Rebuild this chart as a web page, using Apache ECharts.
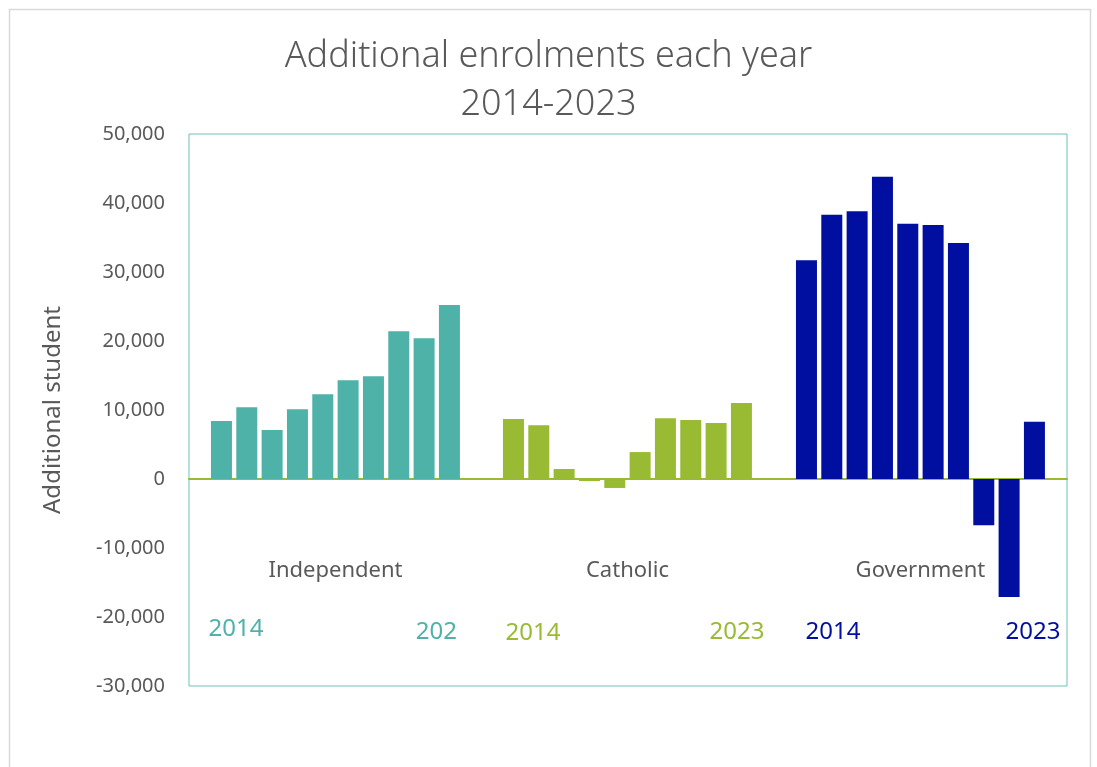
<!DOCTYPE html>
<html>
<head>
<meta charset="utf-8">
<script src="https://cdn.jsdelivr.net/npm/echarts@6/dist/echarts.min.js"></script>
<style>
  html, body { margin: 0; padding: 0; background: #fff; }
  #chart { width: 1097px; height: 767px; }
</style>
</head>
<body>
<div id="chart"></div>
<script>
// data
const years = ['2014', '2015', '2016', '2017', '2018', '2019', '2020', '2021', '2022', '2023'];
const groups = ['Independent', 'Catholic', 'Government'];
const independent = [8400, 10400, 7100, 10100, 12300, 14300, 14900, 21400, 20400, 25200];
const catholic = [8700, 7800, 1450, -300, -1300, 3900, 8800, 8550, 8100, 11000];
const government = [31700, 38300, 38800, 43800, 37000, 36800, 34200, -6700, -17100, 8300];
const endLabels = [['2014', '202'], ['2014', '2023'], ['2014', '2023']];
const yTicks = { min: -30000, max: 50000, interval: 10000 };

const colors = ['#4FB2A9', '#98BB33', '#000FA0'];
const groupValues = [independent, catholic, government];
const groupLefts = [208.8, 500.8, 793.8];
// the year labels in the original are hand-placed text boxes: nudge [dx, dy] per end label
const labelNudge = [[[14.5, 0], [-13, 3]], [[19.5, 4], [-4.5, 3]], [[26.5, 3], [-1.5, 3]]];
const FONT = '"Noto Sans", sans-serif';
const TOP = 134, HEIGHT = 552;
// distance from grid bottom up to the zero line
const ZERO_OFFSET = -HEIGHT * (0 - yTicks.min) / (yTicks.max - yTicks.min);

const chart = echarts.init(document.getElementById('chart'));

const fmt = (v) => v.toLocaleString('en-US');

const nudgePadding = (n) => {
  const dx = n[0], dy = n[1];
  return [dy, dx < 0 ? -2 * dx : 0, 0, dx > 0 ? 2 * dx : 0];
};

const grids = [{ left: 189, top: TOP, width: 878, height: HEIGHT, show: true,
  borderColor: '#6CC1B9', borderWidth: 1, backgroundColor: 'transparent', outerBoundsMode: 'none' }];
const xAxes = [{
  gridIndex: 0, type: 'value', min: 0, max: 1,
  axisLine: { show: true, onZero: true, lineStyle: { color: '#98BB33', width: 2 } },
  axisTick: { show: false }, axisLabel: { show: false }, splitLine: { show: false }
}];
const yAxes = [{
  gridIndex: 0, type: 'value', min: yTicks.min, max: yTicks.max, interval: yTicks.interval,
  axisLine: { show: false }, axisTick: { show: false }, splitLine: { show: false },
  axisLabel: { color: '#595959', fontSize: 20, fontFamily: FONT, margin: 24, formatter: fmt },
  name: 'Additional student', nameLocation: 'middle', nameGap: 124, nameMoveOverlap: false,
  nameTextStyle: { color: '#595959', fontSize: 24, fontFamily: FONT }
}];
const series = [];

groups.forEach((g, i) => {
  grids.push({ left: groupLefts[i], top: TOP, width: 253.3, height: HEIGHT, outerBoundsMode: 'none' });
  xAxes.push({
    gridIndex: i + 1, type: 'category', position: 'bottom', offset: ZERO_OFFSET,
    data: years.map((y, k) => {
      const end = k === 0 ? 0 : k === years.length - 1 ? 1 : -1;
      return end < 0 ? y : { value: y, textStyle: { padding: nudgePadding(labelNudge[i][end]) } };
    }),
    axisLine: { show: false, onZero: false }, axisTick: { show: false }, splitLine: { show: false },
    axisLabel: {
      interval: 0, margin: 138, color: colors[i], fontSize: 24, fontFamily: FONT,
      formatter: (v, k) => (k === 0 ? endLabels[i][0] : k === years.length - 1 ? endLabels[i][1] : '')
    },
    name: g, nameLocation: 'middle', nameGap: 81, nameMoveOverlap: false,
    nameTextStyle: { color: '#595959', fontSize: 22, fontFamily: FONT }
  });
  yAxes.push({
    gridIndex: i + 1, type: 'value', min: yTicks.min, max: yTicks.max, interval: yTicks.interval,
    show: false
  });
  series.push({
    type: 'bar', name: g, xAxisIndex: i + 1, yAxisIndex: i + 1,
    data: groupValues[i], barWidth: 21, itemStyle: { color: colors[i] }, z: 1
  });
});

chart.setOption({
  animation: false,
  title: {
    text: 'Additional enrolments each year\n2014-2023',
    left: 'center', top: 28,
    textStyle: { color: '#595959', fontSize: 36, fontWeight: 300, fontFamily: FONT, lineHeight: 48 }
  },
  graphic: [{
    type: 'rect', silent: true, z: -10,
    shape: { x: 9.5, y: 9.5, width: 1081, height: 800 },
    style: { fill: 'none', stroke: '#D9D9D9', lineWidth: 1.5 }
  }],
  grid: grids, xAxis: xAxes, yAxis: yAxes, series
});
</script>
</body>
</html>
